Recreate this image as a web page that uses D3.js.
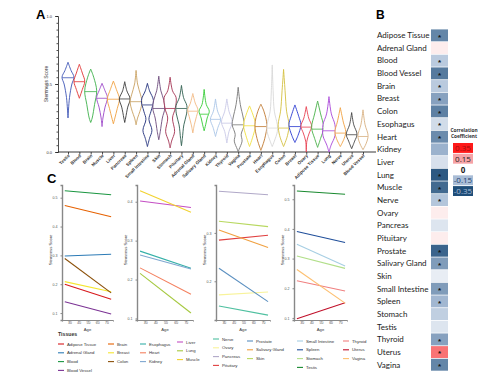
<!DOCTYPE html>
<html>
<head>
<meta charset="utf-8">
<script src="https://cdn.jsdelivr.net/npm/d3@7"></script>
<style>
body{margin:0;background:#fff;}
svg{display:block;font-family:"Liberation Sans",Arial,sans-serif;}
</style>
</head>
<body>
<svg id="fig" width="491" height="378"></svg>
<script>
// ---- panel A data : violins ----
var violinTissues = ["Testis","Blood","Brain","Muscle","Liver","Pancreas","Spleen","Small Intestine","Skin","Stomach","Pituitary","Adrenal Gland","Salivary Gland","Kidney","Thyroid","Vagina","Prostate","Heart","Esophagus","Colon","Breast","Ovary","Adipose Tissue","Lung","Nerve","Uterus","Blood Vessel"];
var violinColors = ["#3d55b5","#e03030","#3cb04a","#9b45c8","#f0a040","#3a3a3a","#c8a060","#1f2e7a","#6b4a7a","#a33050","#2e5e4e","#f2b880","#33cc33","#a8c4e6","#c8c8e6","#777777","#f0e040","#c07830","#d8d8d8","#d4c040","#2838d0","#e84050","#45b045","#a845d8","#f0a040","#444444","#d8b080"];
var violinMedians = [0.546,0.517,0.444,0.395,0.388,0.39,0.37,0.346,0.32,0.32,0.32,0.30,0.278,0.24,0.212,0.2,0.193,0.187,0.176,0.176,0.187,0.183,0.168,0.156,0.139,0.127,0.114];
// [score, relative density]
var violinProfiles = [
  [[0.66,0],[0.6,0.5],[0.55,1],[0.5,0.65],[0.4,0.25],[0.25,0]],
  [[0.645,0],[0.58,0.5],[0.52,0.9],[0.46,0.5],[0.395,0]],
  [[0.61,0],[0.55,0.5],[0.45,1],[0.35,0.65],[0.25,0.25],[0.217,0]],
  [[0.505,0],[0.45,0.5],[0.4,0.9],[0.33,0.5],[0.25,0.15],[0.187,0]],
  [[0.522,0],[0.46,0.5],[0.39,1],[0.32,0.65],[0.25,0.25],[0.207,0]],
  [[0.517,0],[0.45,0.35],[0.39,0.9],[0.33,0.5],[0.25,0.15],[0.217,0]],
  [[0.6,0],[0.5,0.25],[0.42,0.75],[0.37,1],[0.3,0.65],[0.25,0.25],[0.2,0]],
  [[0.505,0],[0.45,0.35],[0.38,1],[0.3,0.6],[0.24,0.25],[0.16,0.75],[0.1,0.35],[0.04,0]],
  [[0.558,0],[0.45,0.35],[0.38,0.85],[0.32,1],[0.25,0.6],[0.15,0.25],[0.09,0]],
  [[0.55,0],[0.45,0.4],[0.4,1],[0.32,0.85],[0.25,0.4],[0.15,0.75],[0.08,0.25],[0.03,0]],
  [[0.49,0],[0.4,0.35],[0.34,0.9],[0.28,0.85],[0.2,0.4],[0.1,0.15],[0.046,0]],
  [[0.43,0],[0.36,0.4],[0.31,0.85],[0.26,0.6],[0.2,0.25],[0.14,0]],
  [[0.46,0],[0.35,0.35],[0.3,0.85],[0.25,0.5],[0.2,0.25],[0.156,0]],
  [[0.39,0],[0.3,0.35],[0.24,0.85],[0.18,0.4],[0.114,0]],
  [[0.39,0],[0.3,0.35],[0.22,0.9],[0.15,0.35],[0.066,0]],
  [[0.476,0],[0.35,0.35],[0.25,0.85],[0.2,1],[0.13,0.5],[0.08,0.65],[0.02,0.15],[0,0]],
  [[0.339,0],[0.27,0.6],[0.2,1],[0.12,0.6],[0.04,0]],
  [[0.351,0],[0.3,0.5],[0.2,1],[0.1,0.65],[0.03,0.15],[0.012,0]],
  [[0.64,0],[0.45,0.15],[0.3,0.35],[0.2,0.85],[0.15,0.85],[0.08,0.35],[0.04,0]],
  [[0.607,0],[0.45,0.25],[0.3,0.5],[0.2,0.9],[0.12,0.65],[0.04,0]],
  [[0.346,0],[0.26,0.65],[0.2,1],[0.12,0.5],[0.07,0]],
  [[0.334,0],[0.25,0.4],[0.19,0.9],[0.14,0.5],[0.08,0.1],[0,0]],
  [[0.375,0],[0.28,0.5],[0.18,1],[0.1,0.5],[0.034,0]],
  [[0.407,0],[0.28,0.4],[0.2,1],[0.12,1],[0.05,0.35],[0,0]],
  [[0.326,0],[0.22,0.5],[0.15,0.9],[0.1,0.65],[0.04,0]],
  [[0.29,0],[0.2,0.35],[0.13,0.9],[0.08,0.5],[0.024,0]],
  [[0.31,0],[0.2,0.35],[0.12,0.85],[0.06,0.5],[0.017,0]]
];
var scoreTicksA = [0, 0.5, 1];

// ---- panel B data : correlation heatmap ----
var heatTissues = ["Adipose Tissue","Adrenal Gland","Blood","Blood Vessel","Brain","Breast","Colon","Esophagus","Heart","Kidney","Liver","Lung","Muscle","Nerve","Ovary","Pancreas","Pituitary","Prostate","Salivary Gland","Skin","Small Intestine","Spleen","Stomach","Testis","Thyroid","Uterus","Vagina"];
var heatCorr = [-0.25,0.03,-0.12,-0.27,-0.12,-0.2,-0.26,-0.08,-0.24,-0.17,-0.07,-0.33,-0.3,-0.13,0.03,-0.06,0.03,-0.31,-0.21,-0.04,-0.21,-0.16,-0.11,-0.06,-0.2,0.22,-0.25];
var heatSig = [1,0,1,1,1,1,1,1,1,0,0,1,1,1,0,0,0,1,1,0,1,1,0,0,1,1,1];
var legendValues = [0.35, 0.15, 0, -0.15, -0.35];
var legendLabels = ["0.35","0.15","0","-0.15","-0.35"];

// ---- panel C data : age trends ----
var trendTissues = ["Adipose Tissue","Adrenal Gland","Blood","Blood Vessel","Brain","Breast","Colon","Esophagus","Heart","Kidney","Liver","Lung","Muscle","Nerve","Ovary","Pancreas","Pituitary","Prostate","Salivary Gland","Skin","Small Intestine","Spleen","Stomach","Testis","Thyroid","Uterus","Vagina"];
var trendColors = ["#d7191c","#2c7bb6","#1a9641","#7b3294","#e66101","#f5e630","#8c510a","#35b0a8","#f4805f","#7fa7d0","#c44fc4","#a6c940","#f2d22e","#4fc0a0","#f8f39a","#b0a8c8","#e04040","#5a8fc0","#f0a040","#b8d860","#a6cee3","#1f4e9a","#b2df8a","#1a8a30","#f08080","#c0102a","#fdbf6f"];
var trendPanel = [0,0,0,0,0,0,0,1,1,1,1,1,1,2,2,2,2,2,2,2,3,3,3,3,3,3,3];
var trendStart = [0.2,0.298,0.524,0.139,0.473,0.209,0.289,0.273,0.230,0.263,0.402,0.216,0.428,0.149,0.172,0.386,0.285,0.227,0.306,0.324,0.348,0.391,0.309,0.528,0.225,0.097,0.263];
var trendEnd   = [0.148,0.304,0.51,0.097,0.434,0.174,0.17,0.229,0.162,0.227,0.385,0.114,0.373,0.13,0.178,0.379,0.295,0.158,0.27,0.313,0.275,0.354,0.267,0.517,0.191,0.151,0.15];
var trendAges = [25, 75];
var ageTicks = [30, 40, 50, 60, 70];
var panelYDomains = [[0.076,0.544],[0.096,0.443],[0.12,0.399],[0.093,0.548]];
var panelYTicks = [[0.1,0.2,0.3,0.4,0.5],[0.1,0.2,0.3,0.4],[0.2,0.3],[0.1,0.2,0.3,0.4,0.5]];
var legendColumns = [4,3,3,3,4,3,4,3];

var svg = d3.select("#fig");
svg.append("rect").attr("width",491).attr("height",378).attr("fill","#fff");

// ================= A =================
var gA = svg.append("g");
gA.append("text").attr("x",36).attr("y",19).attr("font-size",13).attr("font-weight","bold").text("A");
var yA = d3.scaleLinear().domain([0,1]).range([152,16]);
var xA = d3.scalePoint().domain(violinTissues).range([68,363]);
var wA = d3.scaleLinear().domain([0,1]).range([0,6]);

gA.append("g").attr("transform","translate(58,0)")
  .call(d3.axisLeft(yA).tickValues(d3.range(0,1.001,0.05)).tickSize(1.5).tickFormat(""))
  .call(g => g.selectAll("line,path").attr("stroke","#222").attr("stroke-width",0.8));
gA.append("g").attr("transform","translate(58,0)")
  .call(d3.axisLeft(yA).tickValues(scoreTicksA).tickSize(3).tickFormat(d3.format(".1f")))
  .call(g => g.select(".domain").remove())
  .call(g => g.selectAll("line").attr("stroke","#222").attr("stroke-width",0.8))
  .call(g => g.selectAll("text").attr("font-size",4).attr("fill","#333"));
gA.append("text").attr("transform","translate(48,84) rotate(-90)").attr("text-anchor","middle")
  .attr("font-size",5).attr("fill","#333").text("Stemness Score");

var xAxisA = gA.append("g").attr("transform","translate(0,152)")
  .call(d3.axisBottom(xA).tickSize(2.5).tickFormat(""));
xAxisA.select(".domain").remove();
xAxisA.selectAll("line").attr("stroke","#222").attr("stroke-width",0.8);
gA.append("line").attr("x1",58).attr("x2",376).attr("y1",152).attr("y2",152).attr("stroke","#222").attr("stroke-width",0.9);
gA.selectAll(".vlab").data(violinTissues).enter().append("text")
  .attr("transform", d => "translate(" + (xA(d)+2) + ",156) rotate(-45)")
  .attr("text-anchor","end").attr("font-size",4.5).attr("font-weight","bold").attr("fill","#333")
  .text(d => d);

function widthAt(profile, v) {
  for (var i = 0; i < profile.length - 1; i++) {
    var a = profile[i], b = profile[i+1];
    if (v <= a[0] && v >= b[0]) {
      var t = (a[0] - v) / (a[0] - b[0]);
      return a[1] + t * (b[1] - a[1]);
    }
  }
  return 0;
}
var violinArea = d3.area().curve(d3.curveCatmullRom.alpha(0.5));
violinTissues.forEach(function(t, i) {
  var cx = xA(t);
  var area = violinArea.y(d => yA(d[0])).x0(d => cx - wA(d[1])).x1(d => cx + wA(d[1]));
  gA.append("path").attr("d", area(violinProfiles[i]))
    .attr("fill","#fff").attr("fill-opacity",0.6).attr("stroke",violinColors[i]).attr("stroke-width",0.9);
  var hw = wA(widthAt(violinProfiles[i], violinMedians[i]));
  gA.append("line").attr("x1",cx-hw).attr("x2",cx+hw)
    .attr("y1",yA(violinMedians[i])).attr("y2",yA(violinMedians[i]))
    .attr("stroke",violinColors[i]).attr("stroke-width",0.8);
});

// ================= B =================
var gB = svg.append("g");
gB.append("text").attr("x",376).attr("y",19).attr("font-size",12).attr("font-weight","bold").text("B");
var yB = d3.scaleBand().domain(heatTissues).range([29.4, 370.7]).paddingInner(0.06);
var heatColor = d3.scaleLinear().domain([-0.35,-0.15,0,0.15,0.35])
  .range(["#1f4e79","#a9bdd6","#ffffff","#f6a3a6","#ff1a1a"]);
gB.selectAll(".hlab").data(heatTissues).enter().append("text")
  .attr("x",377).attr("y", d => yB(d) + yB.bandwidth()/2 + 2.8)
  .attr("font-family","Lato").attr("font-size",8).attr("fill","#222").text(d => d);
gB.selectAll(".cell").data(heatTissues).enter().append("rect")
  .attr("x",431).attr("width",17).attr("y", d => yB(d)).attr("height", yB.bandwidth())
  .attr("fill", (d,i) => heatColor(heatCorr[i]));
gB.selectAll(".star").data(heatTissues.filter((d,i) => heatSig[i])).enter().append("text")
  .attr("x",439.5).attr("y", d => yB(d) + yB.bandwidth()/2 + 4.2).attr("text-anchor","middle")
  .attr("font-size",8).attr("font-weight","bold").attr("fill","#111").text("*");

gB.append("text").attr("x",464).attr("y",132).attr("text-anchor","middle").attr("font-size",4.8)
  .attr("font-weight","bold").attr("font-family","Open Sans").attr("fill","#333").text("Correlation");
gB.append("text").attr("x",464).attr("y",138).attr("text-anchor","middle").attr("font-size",4.8)
  .attr("font-weight","bold").attr("font-family","Open Sans").attr("fill","#333").text("Coefficient");
var legY = d3.scaleBand().domain(legendLabels).range([143, 196]).paddingInner(0.08);
legendValues.forEach(function(v, i) {
  var lab = legendLabels[i];
  if (v !== 0) {
    gB.append("rect").attr("x",453).attr("width",20).attr("y",legY(lab)).attr("height",legY.bandwidth())
      .attr("fill",heatColor(v));
  }
  gB.append("text").attr("x",463).attr("y",legY(lab)+legY.bandwidth()/2+3)
    .attr("text-anchor","middle").attr("font-family","Open Sans").attr("font-size",8)
    .attr("font-weight", v === 0 ? "bold" : "normal")
    .attr("fill", v === 0.35 ? "#a01010" : v === -0.35 ? "#a9bdd6" : v === -0.15 ? "#1f3f6f" : "#222")
    .text(lab);
});

// ================= C =================
var gC = svg.append("g");
gC.append("text").attr("x",47).attr("y",183).attr("font-size",13).attr("font-weight","bold").text("C");
var panelX = [[62,113],[137,193],[216,270],[294,347]];
var topC = 185, botC = 320;
panelX.forEach(function(px, p) {
  var x = d3.scaleLinear().domain([22,77]).range(px);
  var y = d3.scaleLinear().domain(panelYDomains[p]).range([botC, topC]);
  var g = gC.append("g");
  g.append("g").attr("transform","translate(0," + botC + ")")
    .call(d3.axisBottom(x).tickValues(ageTicks).tickSize(1.5))
    .call(a => a.select(".domain").attr("stroke","#888").attr("stroke-width",1))
    .call(a => a.selectAll("line").attr("stroke","#888"))
    .call(a => a.selectAll("text").attr("font-size",3.4).attr("fill","#555").attr("y",2).attr("dy","0.71em"));
  g.append("g").attr("transform","translate(" + px[0] + ",0)")
    .call(d3.axisLeft(y).tickValues(panelYTicks[p]).tickSize(1.5).tickFormat(d3.format(".1f")))
    .call(a => a.select(".domain").attr("stroke","#888").attr("stroke-width",1.4))
    .call(a => a.selectAll("line").attr("stroke","#888"))
    .call(a => a.selectAll("text").attr("font-size",3.6).attr("fill","#555"));
  g.append("text").attr("x",(px[0]+px[1])/2).attr("y",330.5).attr("text-anchor","middle")
    .attr("font-size",4.2).attr("fill","#333").text("Age");
  g.append("text").attr("transform","translate(" + (px[0]-10) + ",250) rotate(-90)").attr("text-anchor","middle")
    .attr("font-size",4.2).attr("fill","#333").text("Stemness Score");
  var line = d3.line().x(d => x(d[0])).y(d => y(d[1]));
  trendTissues.forEach(function(t, i) {
    if (trendPanel[i] !== p) return;
    g.append("path").attr("d", line([[trendAges[0], trendStart[i]], [trendAges[1], trendEnd[i]]]))
      .attr("fill","none").attr("stroke",trendColors[i]).attr("stroke-width",1.1);
  });
});

// legend
gC.append("text").attr("x",58).attr("y",336).attr("font-size",5.2).attr("font-weight","bold").attr("fill","#333").text("Tissues");
var colX = [58,108,140,177,213,247,297,343];
var colY0 = [344,344,344,342,339,341,341,341];
var k = 0;
legendColumns.forEach(function(n, c) {
  for (var r = 0; r < n; r++, k++) {
    var yy = colY0[c] + r * 8.8;
    gC.append("line").attr("x1",colX[c]).attr("x2",colX[c]+6).attr("y1",yy).attr("y2",yy)
      .attr("stroke",trendColors[k]).attr("stroke-width",1.1);
    gC.append("text").attr("x",colX[c]+9).attr("y",yy+1.5).attr("font-size",4.3).attr("fill","#333").text(trendTissues[k]);
  }
});
</script>
</body>
</html>
